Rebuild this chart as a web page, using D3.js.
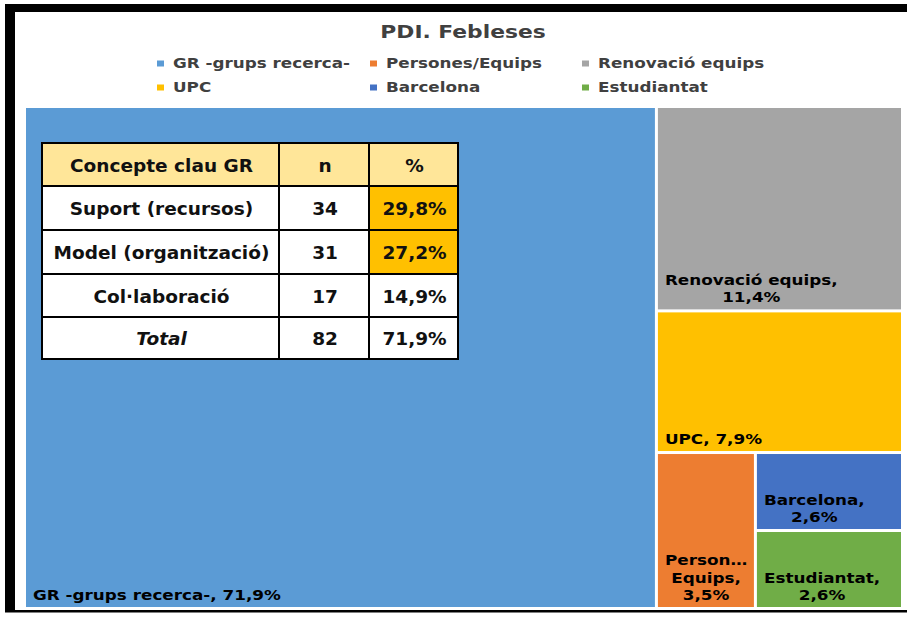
<!DOCTYPE html>
<html><head><meta charset="utf-8">
<script src="https://cdn.jsdelivr.net/npm/d3@7"></script>
<style>
html,body{margin:0;padding:0;background:#fff;}
svg{display:block;}
text{font-family:"DejaVu Sans",Verdana,sans-serif;}
</style></head>
<body>
<svg id="c" width="907" height="618"></svg>
<script>
const title = "PDI. Febleses";
const categories = ["GR -grups recerca-","Persones/Equips","Renovació equips","UPC","Barcelona","Estudiantat"];
const values = [71.9, 3.5, 11.4, 7.9, 2.6, 2.6];
const colors = ["#5B9BD5","#ED7D31","#A5A5A5","#FFC000","#4472C4","#70AD47"];
// labels as displayed in the treemap cells (lines)
const cellLabels = [
  ["GR -grups recerca-, 71,9%"],
  ["Person…","Equips,","3,5%"],
  ["Renovació equips,","11,4%"],
  ["UPC, 7,9%"],
  ["Barcelona,","2,6%"],
  ["Estudiantat,","2,6%"]
];
// table data
const tableHeader = ["Concepte clau GR","n","%"];
const tableConcepts = ["Suport (recursos)","Model (organització)","Col·laboració","Total"];
const tableN = [34, 31, 17, 82];
const tablePct = ["29,8%","27,2%","14,9%","71,9%"];
const tableHighlight = [true, true, false, false];

const svg = d3.select("#c");

// horizontally stretch text (the original chart is rendered wider)
function stretch(node, k){
  const len = node.getComputedTextLength();
  d3.select(node).attr("textLength", len*k).attr("lengthAdjust","spacingAndGlyphs");
  return len*k;
}

// frame
svg.append("rect").attr("x",5).attr("y",4).attr("width",902).attr("height",8).attr("fill","#000");
svg.append("rect").attr("x",5).attr("y",4).attr("width",10).attr("height",608).attr("fill","#000");
svg.append("rect").attr("x",5).attr("y",610).attr("width",902).attr("height",2.5).attr("fill","#000");

// title
const tt = svg.append("text").attr("x",463).attr("y",38).attr("text-anchor","middle")
  .attr("font-size",18).attr("font-weight","bold").attr("fill","#404040").text(title);
stretch(tt.node(), 1.21);

// legend
const legCols = [157, 370, 582];
const legRows = [68, 92];
const legend = svg.append("g");
categories.forEach((c,i)=>{
  const cx = legCols[i%3], cy = legRows[Math.floor(i/3)];
  legend.append("rect").attr("x",cx).attr("y",cy-7.5).attr("width",7).attr("height",6).attr("fill",colors[i]);
  const t = legend.append("text").attr("x",cx+16).attr("y",cy).attr("font-size",14.5).attr("font-weight","bold")
    .attr("fill","#404040").text(c);
  stretch(t.node(), 1.157);
});

// treemap
const root = d3.hierarchy({children: categories.map((c,i)=>({name:c, value:values[i], idx:i}))})
  .sum(d=>d.value||0).sort((a,b)=>b.value-a.value);
d3.treemap().tile(d3.treemapSquarify.ratio(1)).size([875,499]).paddingInner(3).round(false)(root);
const tm = svg.append("g").attr("transform","translate(26,108)");
const leaves = root.leaves();
tm.selectAll("rect.cell").data(leaves).join("rect").attr("class","cell")
  .attr("x",d=>d.x0).attr("y",d=>d.y0).attr("width",d=>d.x1-d.x0).attr("height",d=>d.y1-d.y0)
  .attr("fill",d=>colors[d.data.idx]);

const lh = 17.5;
leaves.forEach(d=>{
  const lines = cellLabels[d.data.idx];
  const g = tm.append("g");
  const t = g.append("text").attr("font-size",14).attr("font-weight","bold").attr("fill","#000");
  let w = 0;
  lines.forEach((l,k)=>{
    const ts = t.append("tspan").attr("x",0).attr("y",-(lines.length-1-k)*lh).attr("text-anchor","middle").text(l);
    w = Math.max(w, stretch(ts.node(), 1.2));
  });
  g.attr("transform",`translate(${d.x0+7+w/2},${d.y1-7})`);
});

// table
const tx = [42, 279, 369, 458];
const ty = [143, 186, 230, 274, 317, 359];
const tbl = svg.append("g");
const rows = [tableHeader].concat(tableConcepts.map((c,i)=>[c, String(tableN[i]), tablePct[i]]));
rows.forEach((r,ri)=>{
  r.forEach((v,ci)=>{
    let fill = "#fff";
    if(ri===0) fill = "#FFE699";
    else if(ci===2 && tableHighlight[ri-1]) fill = "#FFC000";
    tbl.append("rect").attr("x",tx[ci]).attr("y",ty[ri]).attr("width",tx[ci+1]-tx[ci]).attr("height",ty[ri+1]-ty[ri])
      .attr("fill",fill).attr("stroke","#000").attr("stroke-width",2);
    tbl.append("text").attr("x",(tx[ci]+tx[ci+1])/2+1).attr("y",(ty[ri]+ty[ri+1])/2+7)
      .attr("text-anchor","middle").attr("font-size",18.5).attr("font-weight","bold")
      .attr("font-style", (ri===4 && ci===0)?"italic":"normal")
      .attr("fill","#111").text(v);
  });
});
</script>
</body></html>
